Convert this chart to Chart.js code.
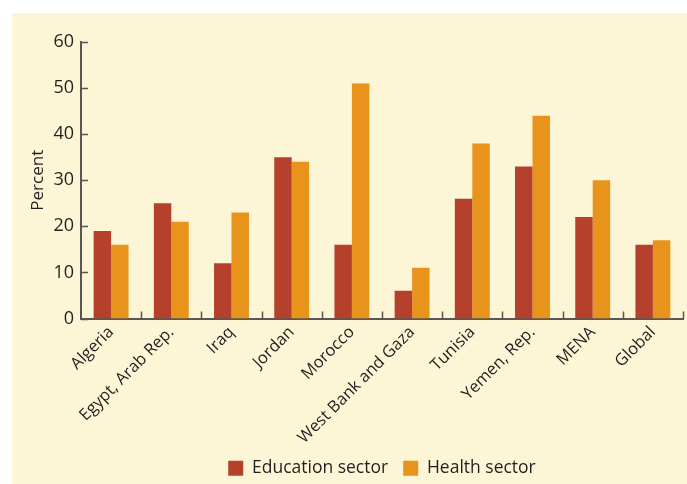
<!DOCTYPE html>
<html>
<head>
<meta charset="utf-8">
<script src="https://cdn.jsdelivr.net/npm/chart.js@4.4.0/dist/chart.umd.min.js"></script>
<style>
    html, body { margin: 0; padding: 0; background: #ffffff; }
    #panel {
        position: absolute;
        left: 12px;
        top: 13px;
        width: 675px;
        height: 471px;
        background: #fdf6d6;
    }
</style>
</head>
<body>
<div id="panel"><canvas id="chart"></canvas></div>
<script>
// Chart data
const countries = ['Algeria', 'Egypt, Arab Rep.', 'Iraq', 'Jordan', 'Morocco',
    'West Bank and Gaza', 'Tunisia', 'Yemen, Rep.', 'MENA', 'Global'];
const educationSector = [19, 25, 12, 35, 16, 6, 26, 33, 22, 16];
const healthSector = [16, 21, 23, 34, 51, 11, 38, 44, 30, 17];
const yTicks = [0, 10, 20, 30, 40, 50, 60];

const AXIS_COLOR = '#5b5651';
const TEXT_COLOR = '#231f20';

// Ticks point inward in the original, so draw them by hand
const innerTicks = {
    id: 'innerTicks',
    afterDraw(chart) {
        const ctx = chart.ctx;
        const x = chart.scales.x;
        const y = chart.scales.y;
        const area = chart.chartArea;
        ctx.save();
        ctx.strokeStyle = AXIS_COLOR;
        ctx.lineWidth = 1.5;
        ctx.beginPath();
        yTicks.forEach(v => {
            const py = Math.round(y.getPixelForValue(v)) + 0.5;
            ctx.moveTo(area.left, py);
            ctx.lineTo(area.left + 7, py);
        });
        const step = x.getPixelForValue(1) - x.getPixelForValue(0);
        countries.forEach((c, i) => {
            const px = Math.round(x.getPixelForValue(i) + step / 2) + 0.5;
            ctx.moveTo(px, area.bottom);
            ctx.lineTo(px, area.bottom - 7);
        });
        ctx.stroke();
        ctx.restore();
    }
};

new Chart(document.getElementById('chart'), {
    type: 'bar',
    data: {
        labels: countries,
        datasets: [{
            label: 'Education sector',
            data: educationSector,
            backgroundColor: '#b5402c',
            categoryPercentage: 0.58,
            barPercentage: 1
        }, {
            label: 'Health sector',
            data: healthSector,
            backgroundColor: '#e8931b',
            categoryPercentage: 0.58,
            barPercentage: 1
        }]
    },
    options: {
        responsive: true,
        maintainAspectRatio: false,
        animation: false,
        layout: {
            padding: { top: 29, right: 4, left: 0, bottom: -3 }
        },
        plugins: {
            legend: {
                position: 'bottom',
                fullSize: false,
                labels: {
                    boxWidth: 15,
                    boxHeight: 15,
                    padding: 15,
                    color: TEXT_COLOR,
                    font: { family: 'Open Sans', size: 17.5 }
                }
            },
            tooltip: { enabled: false }
        },
        scales: {
            x: {
                grid: { display: false, drawTicks: false },
                border: { display: true, color: AXIS_COLOR, width: 2 },
                ticks: {
                    color: TEXT_COLOR,
                    font: { family: 'Open Sans', size: 16.5 },
                    minRotation: 45,
                    maxRotation: 45,
                    padding: 4
                },
                afterFit(scale) { scale.height = 126; }
            },
            y: {
                min: 0,
                max: 60,
                grid: { display: false, drawTicks: false },
                border: { display: true, color: AXIS_COLOR, width: 2 },
                ticks: {
                    stepSize: 10,
                    color: TEXT_COLOR,
                    font: { family: 'Open Sans', size: 18 },
                    padding: 7
                },
                title: {
                    display: true,
                    text: 'Percent',
                    color: TEXT_COLOR,
                    font: { family: 'Open Sans', size: 17 },
                    padding: { top: 16, bottom: 0 }
                },
                afterFit(scale) { scale.width = 69; }
            }
        }
    },
    plugins: [innerTicks]
});
</script>
</body>
</html>
